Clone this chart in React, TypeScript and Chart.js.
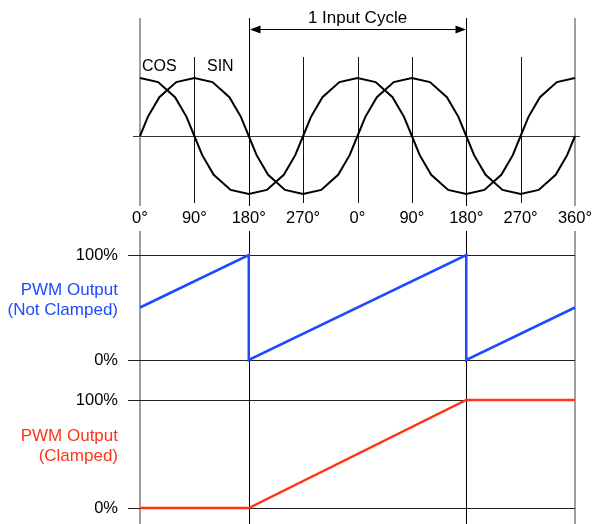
import React, { useEffect, useRef } from 'react';
import { Chart, registerables } from 'chart.js';

Chart.register(...registerables);

// ---- data ----
const sinDeg = [0, 13, 32, 60, 90, 120, 148, 167, 180, 193, 212, 240, 270, 300, 328, 347, 360, 373, 392, 420, 450, 480, 508, 527, 540, 553, 572, 600, 630, 660, 688, 707, 720];
const sinVal = [0, 0.33, 0.67, 0.93, 1, 0.93, 0.67, 0.33, 0, -0.33, -0.67, -0.93, -1, -0.93, -0.67, -0.33, 0, 0.33, 0.67, 0.93, 1, 0.93, 0.67, 0.33, 0, -0.33, -0.67, -0.93, -1, -0.93, -0.67, -0.33, 0];
const cosDeg = [0, 30, 58, 77, 90, 103, 122, 150, 180, 210, 238, 257, 270, 283, 302, 330, 360, 390, 418, 437, 450, 463, 482, 510, 540, 570, 598, 617, 630, 643, 662, 690, 720];
const cosVal = [1, 0.93, 0.67, 0.33, 0, -0.33, -0.67, -0.93, -1, -0.93, -0.67, -0.33, 0, 0.33, 0.67, 0.93, 1, 0.93, 0.67, 0.33, 0, -0.33, -0.67, -0.93, -1, -0.93, -0.67, -0.33, 0, 0.33, 0.67, 0.93, 1];
const pwmDeg = [0, 180, 180, 540, 540, 720];
const pwmVal = [50, 100, 0, 100, 0, 50];
const clampDeg = [0, 180, 540, 720];
const clampVal = [0, 0, 100, 100];

const tickDeg = [0, 90, 180, 270, 360, 450, 540, 630, 720];
const tickLabels = ['0°', '90°', '180°', '270°', '0°', '90°', '180°', '270°', '360°'];
const majorDeg = [0, 180, 540, 720];
const minorDeg = [90, 270, 360, 450, 630];
const lowerDeg = [0, 180, 540, 720];
const pctVals = [0, 100];
const pctLabels = ['0%', '100%'];
const cycleFrom = 180;
const cycleTo = 540;
const cycleLabel = '1 Input Cycle';
const cosLabel = 'COS';
const sinLabel = 'SIN';
const pwmLabel1 = ['PWM Output', '(Not Clamped)'];
const pwmLabel2 = ['PWM Output', '(Clamped)'];

// ---- layout / style ----
const W = 594;
const H = 524;
const BLUE = '#1e4bff';
const RED = '#ff3518';
const FONT = '"Liberation Sans", Arial, Helvetica, sans-serif';

function fitRange(vLo: number, pLo: number, vHi: number, pHi: number) {
  const s = (pLo - pHi) / (vHi - vLo);
  return { min: vLo - (H - pLo) / s, max: vHi + pHi / s };
}

const sinRange = fitRange(-1, 194, 1, 78);
const pwmRange = fitRange(0, 360, 100, 255);
const clampRange = fitRange(0, 508, 100, 400);

const overlay = {
  id: 'overlay',
  beforeDatasetsDraw(chart: any) {
    const ctx = chart.ctx as CanvasRenderingContext2D;
    const x = chart.scales.x;
    const ys = chart.scales.ySin;
    const yp = chart.scales.yPwm;
    const yc = chart.scales.yClamp;
    ctx.save();
    ctx.lineWidth = 1;
    const snap = (v: number) => Math.round(v) + 0.5;
    const vline = (px: number, y0: number, y1: number, color: string, w: number) => {
      ctx.strokeStyle = color;
      ctx.lineWidth = w;
      ctx.beginPath();
      ctx.moveTo(px, y0);
      ctx.lineTo(px, y1);
      ctx.stroke();
    };
    const hline = (py: number, x0: number, x1: number, color: string) => {
      ctx.strokeStyle = color;
      ctx.lineWidth = 1;
      ctx.beginPath();
      ctx.moveTo(x0, py);
      ctx.lineTo(x1, py);
      ctx.stroke();
    };
    const x0 = x.getPixelForValue(0);
    const x1 = x.getPixelForValue(720);
    // sine axis
    hline(snap(ys.getPixelForValue(0)), x0 - 7, x1 + 5, '#333');
    // minor verticals
    minorDeg.forEach((d) => vline(snap(x.getPixelForValue(d)), 57, 203, '#111', 1));
    // major verticals (top)
    majorDeg.forEach((d) => {
      const edge = d === 0 || d === 720;
      const px = x.getPixelForValue(d);
      vline(edge ? px : snap(px), 18, 206, edge ? '#6a6a6a' : '#000', edge ? 1.3 : 1);
    });
    // lower verticals
    lowerDeg.forEach((d) => {
      const edge = d === 0 || d === 720;
      const px = x.getPixelForValue(d);
      vline(edge ? px : snap(px), 231, H, edge ? '#6a6a6a' : '#000', edge ? 1.3 : 1);
    });
    // lower horizontals
    [yp, yc].forEach((sc: any) => {
      pctVals.forEach((v) => hline(snap(sc.getPixelForValue(v)), 128, x1, '#222'));
    });
    ctx.restore();
  },
  afterDatasetsDraw(chart: any) {
    const ctx = chart.ctx as CanvasRenderingContext2D;
    const x = chart.scales.x;
    const yp = chart.scales.yPwm;
    const yc = chart.scales.yClamp;
    ctx.save();
    ctx.fillStyle = '#000';
    ctx.textBaseline = 'middle';
    // tick labels
    ctx.font = `16.5px ${FONT}`;
    ctx.textAlign = 'center';
    tickDeg.forEach((d, i) => ctx.fillText(tickLabels[i], x.getPixelForValue(d), 218));
    // COS / SIN
    ctx.font = `16px ${FONT}`;
    ctx.textAlign = 'left';
    ctx.fillText(cosLabel, 142, 67);
    ctx.fillText(sinLabel, 207, 67);
    // cycle arrow
    const ax0 = Math.round(x.getPixelForValue(cycleFrom)) + 0.5;
    const ax1 = Math.round(x.getPixelForValue(cycleTo)) + 0.5;
    const ay = 29;
    ctx.strokeStyle = '#000';
    ctx.lineWidth = 1;
    ctx.beginPath();
    ctx.moveTo(ax0 + 8, ay + 0.5);
    ctx.lineTo(ax1 - 8, ay + 0.5);
    ctx.stroke();
    ctx.beginPath();
    ctx.moveTo(ax0 + 0.5, ay + 0.5);
    ctx.lineTo(ax0 + 11, ay - 3.5);
    ctx.lineTo(ax0 + 11, ay + 4.5);
    ctx.closePath();
    ctx.fill();
    ctx.beginPath();
    ctx.moveTo(ax1 - 0.5, ay + 0.5);
    ctx.lineTo(ax1 - 11, ay - 3.5);
    ctx.lineTo(ax1 - 11, ay + 4.5);
    ctx.closePath();
    ctx.fill();
    ctx.font = `17px ${FONT}`;
    ctx.textAlign = 'center';
    ctx.fillText(cycleLabel, x.getPixelForValue((cycleFrom + cycleTo) / 2), 18);
    // percent labels
    ctx.textAlign = 'right';
    ctx.font = `16.5px ${FONT}`;
    [yp, yc].forEach((sc: any) => {
      pctVals.forEach((v, i) => ctx.fillText(pctLabels[i], 118, sc.getPixelForValue(v)));
    });
    // series labels
    ctx.font = `17px ${FONT}`;
    ctx.fillStyle = BLUE;
    ctx.fillText(pwmLabel1[0], 118, 290);
    ctx.fillText(pwmLabel1[1], 118, 310);
    ctx.fillStyle = RED;
    ctx.fillText(pwmLabel2[0], 118, 436);
    ctx.fillText(pwmLabel2[1], 118, 456);
    ctx.restore();
  },
};

export default function App() {
  const ref = useRef<HTMLCanvasElement | null>(null);
  useEffect(() => {
    if (!ref.current) return;
    const pts = (xs: number[], ys: number[]) => xs.map((d, i) => ({ x: d, y: ys[i] }));
    const chart = new Chart(ref.current, {
      type: 'line',
      data: {
        datasets: [
          { label: 'COS', data: pts(cosDeg, cosVal), yAxisID: 'ySin', borderColor: '#000', borderWidth: 2, pointRadius: 0, tension: 0, clip: false },
          { label: 'SIN', data: pts(sinDeg, sinVal), yAxisID: 'ySin', borderColor: '#000', borderWidth: 2, pointRadius: 0, tension: 0, clip: false },
          { label: 'PWM', data: pts(pwmDeg, pwmVal), yAxisID: 'yPwm', borderColor: BLUE, borderWidth: 2.5, pointRadius: 0, tension: 0, clip: false },
          { label: 'Clamped', data: pts(clampDeg, clampVal), yAxisID: 'yClamp', borderColor: RED, borderWidth: 2.5, pointRadius: 0, tension: 0, clip: false },
        ],
      },
      options: {
        animation: false,
        responsive: false,
        devicePixelRatio: 1,
        layout: { padding: { left: 140, right: 19, top: 0, bottom: 0 } },
        plugins: { legend: { display: false }, tooltip: { enabled: false }, title: { display: false } },
        events: [],
        scales: {
          x: { type: 'linear', min: 0, max: 720, display: false },
          ySin: { type: 'linear', min: sinRange.min, max: sinRange.max, display: false },
          yPwm: { type: 'linear', min: pwmRange.min, max: pwmRange.max, display: false },
          yClamp: { type: 'linear', min: clampRange.min, max: clampRange.max, display: false },
        },
      },
      plugins: [overlay],
    } as any);
    return () => chart.destroy();
  }, []);
  return (
    <div style={{ position: 'absolute', left: 0, top: 0, width: W, height: H, background: '#fff' }}>
      <canvas ref={ref} width={W} height={H} style={{ display: 'block' }} />
    </div>
  );
}
